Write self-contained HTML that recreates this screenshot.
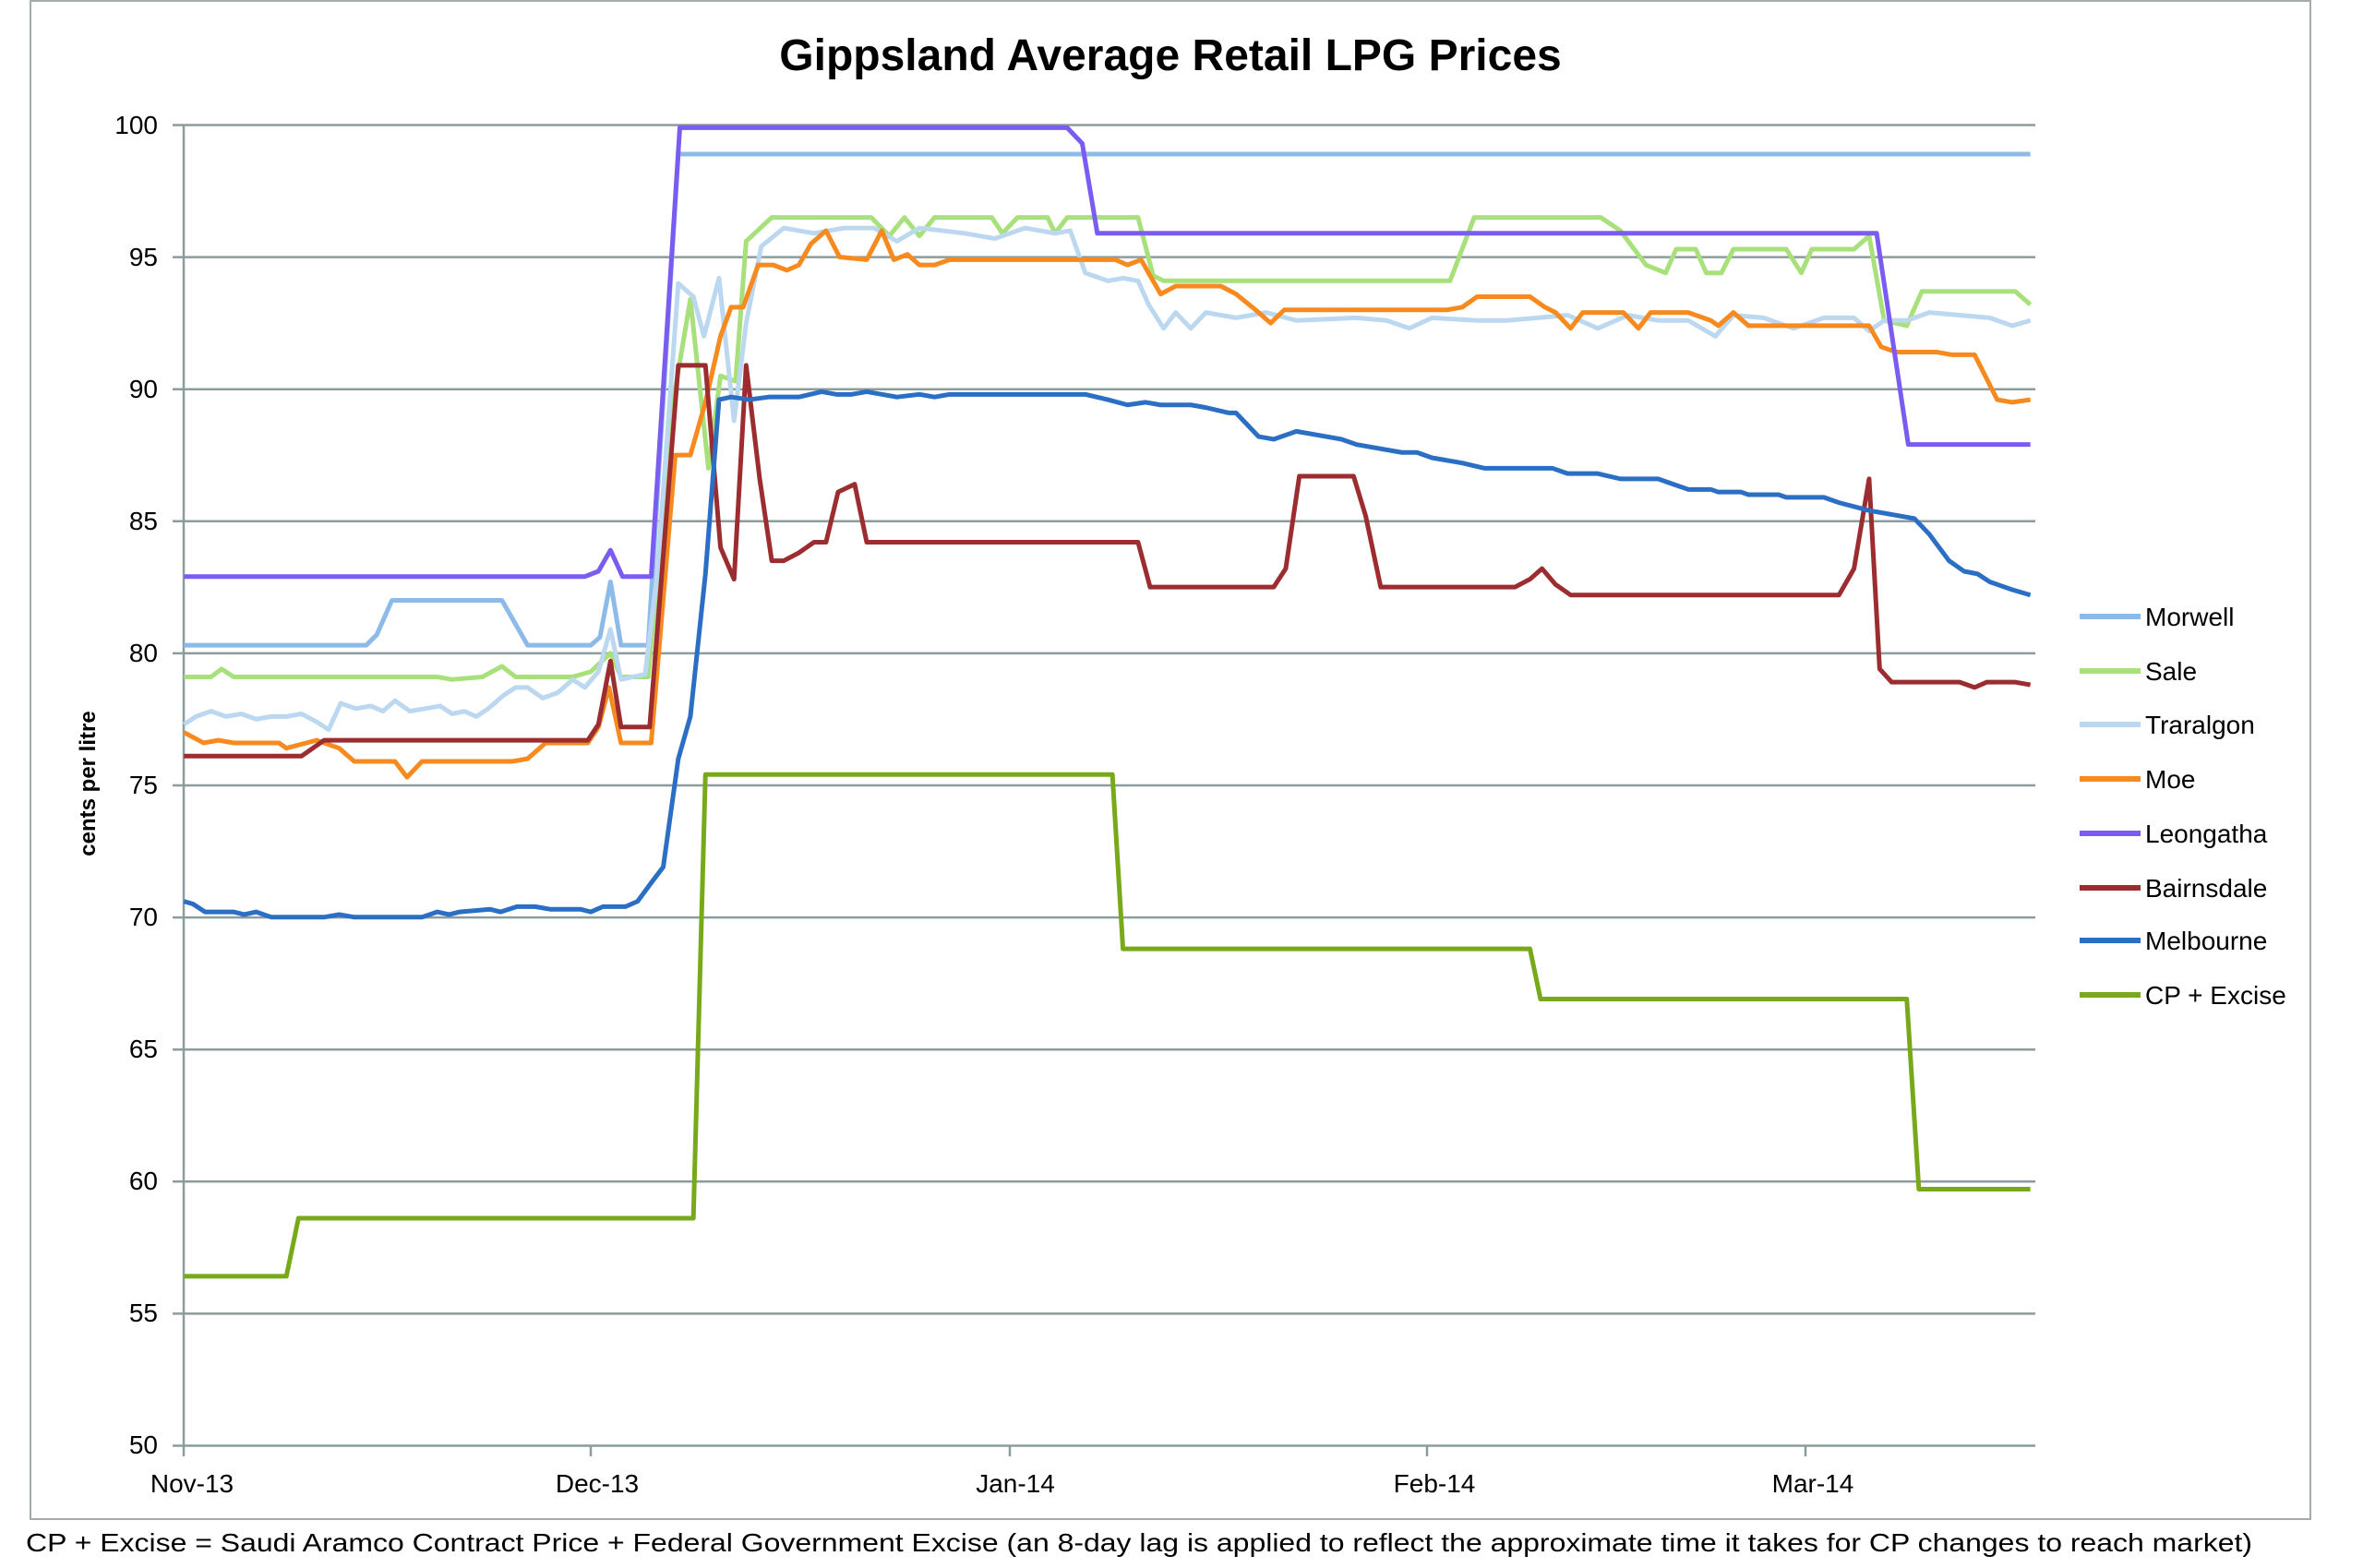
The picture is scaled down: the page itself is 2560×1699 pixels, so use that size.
<!DOCTYPE html>
<html><head><meta charset="utf-8"><style>
html,body{margin:0;padding:0;background:#fff;}
svg{display:block;}
text{font-family:"Liberation Sans",sans-serif;fill:#000;}
</style></head><body>
<svg width="2560" height="1699" xmlns="http://www.w3.org/2000/svg">
<rect x="33" y="1" width="2470" height="1645" fill="#fff" stroke="#a3abab" stroke-width="2"/>
<text x="1268" y="76" font-size="48" font-weight="bold" text-anchor="middle">Gippsland Average Retail LPG Prices</text>
<g stroke="#8c9c9c" stroke-width="2.5">
<line x1="187" y1="135.5" x2="2205" y2="135.5"/>
<line x1="187" y1="278.6" x2="2205" y2="278.6"/>
<line x1="187" y1="421.7" x2="2205" y2="421.7"/>
<line x1="187" y1="564.8" x2="2205" y2="564.8"/>
<line x1="187" y1="707.9" x2="2205" y2="707.9"/>
<line x1="187" y1="851" x2="2205" y2="851"/>
<line x1="187" y1="994.1" x2="2205" y2="994.1"/>
<line x1="187" y1="1137.2" x2="2205" y2="1137.2"/>
<line x1="187" y1="1280.3" x2="2205" y2="1280.3"/>
<line x1="187" y1="1423.4" x2="2205" y2="1423.4"/>
<line x1="187" y1="1566.5" x2="2205" y2="1566.5"/>
<line x1="199" y1="135.5" x2="199" y2="1578"/>
<line x1="640" y1="1566" x2="640" y2="1578"/>
<line x1="1094" y1="1566" x2="1094" y2="1578"/>
<line x1="1546" y1="1566" x2="1546" y2="1578"/>
<line x1="1956" y1="1566" x2="1956" y2="1578"/>
</g>
<g font-size="28" text-anchor="end">
<text x="171" y="145">100</text><text x="171" y="288">95</text><text x="171" y="431">90</text>
<text x="171" y="574">85</text><text x="171" y="717">80</text><text x="171" y="860">75</text>
<text x="171" y="1003">70</text><text x="171" y="1146">65</text><text x="171" y="1289">60</text>
<text x="171" y="1432">55</text><text x="171" y="1575">50</text>
</g>
<g font-size="28" text-anchor="middle">
<text x="208" y="1617">Nov-13</text><text x="647" y="1617">Dec-13</text><text x="1100" y="1617">Jan-14</text>
<text x="1554" y="1617">Feb-14</text><text x="1964" y="1617">Mar-14</text>
</g>
<text transform="translate(103,849) rotate(-90)" font-size="24" font-weight="bold" text-anchor="middle">cents per litre</text>
<text x="28" y="1681" font-size="28" textLength="2412" lengthAdjust="spacingAndGlyphs">CP + Excise = Saudi Aramco Contract Price + Federal Government Excise (an 8-day lag is applied to reflect the approximate time it takes for CP changes to reach market)</text>

<g transform="matrix(1.633 0 0 -28.61 0 2996.5)" fill="none" stroke-width="5" stroke-linejoin="round">
<polyline vector-effect="non-scaling-stroke" stroke="#8dbbe9" points="122,80.3 243,80.3 250,80.7 260,82 333,82 350,80.3 392,80.3 398,80.6 405,82.7 412,80.3 430,80.3 450,98.9 1347,98.9"/>
<polyline vector-effect="non-scaling-stroke" stroke="#a8e07c" points="122,79.1 140,79.1 147,79.4 155,79.1 290,79.1 300,79.0 320,79.1 333,79.5 342,79.1 380,79.1 392,79.3 405,80 412,79.1 430,79.1 448,90 458,93.4 470,87 478,90.5 488,90.3 495,95.6 512,96.5 578,96.5 590,95.8 600,96.5 610,95.8 620,96.5 658,96.5 665,95.9 675,96.5 695,96.5 700,95.9 708,96.5 755,96.5 765,94.3 772,94.1 962,94.1 978,96.5 1062,96.5 1075,96 1092,94.7 1105,94.4 1112,95.3 1125,95.3 1132,94.4 1142,94.4 1150,95.3 1185,95.3 1195,94.4 1202,95.3 1230,95.3 1240,95.8 1250,92.6 1265,92.4 1275,93.7 1337,93.7 1347,93.2"/>
<polyline vector-effect="non-scaling-stroke" stroke="#bcd8f0" points="122,77.3 130,77.6 140,77.8 150,77.6 160,77.7 170,77.5 180,77.6 190,77.6 200,77.7 210,77.4 218,77.1 226,78.1 236,77.9 246,78.0 254,77.8 262,78.2 272,77.8 282,77.9 292,78.0 300,77.7 308,77.8 316,77.6 324,77.9 334,78.4 342,78.7 350,78.7 360,78.3 370,78.5 380,79.0 388,78.7 397,79.3 405,80.9 412,79.0 428,79.2 436,83 450,94 460,93.5 467,92 477,94.2 487,88.8 495,92.5 505,95.4 520,96.1 540,95.9 560,96.1 580,96.1 595,95.6 610,96.1 640,95.9 660,95.7 680,96.1 700,95.9 710,96 720,94.4 735,94.1 745,94.2 755,94.1 762,93.2 772,92.3 780,92.9 790,92.3 800,92.9 820,92.7 840,92.9 860,92.6 900,92.7 920,92.6 935,92.3 950,92.7 980,92.6 1000,92.6 1020,92.7 1040,92.8 1060,92.3 1080,92.8 1100,92.6 1120,92.6 1138,92 1150,92.8 1170,92.7 1190,92.3 1210,92.7 1230,92.7 1240,92.2 1250,92.6 1265,92.6 1280,92.9 1300,92.8 1320,92.7 1335,92.4 1347,92.6"/>
<polyline vector-effect="non-scaling-stroke" stroke="#f68a1f" points="122,77 135,76.6 145,76.7 155,76.6 185,76.6 190,76.4 210,76.7 225,76.4 235,75.9 262,75.9 270,75.3 280,75.9 340,75.9 350,76 362,76.6 390,76.6 397,77.2 404,78.7 412,76.6 432,76.6 448,87.5 458,87.5 468,89.5 478,92 485,93.1 493,93.1 503,94.7 513,94.7 522,94.5 530,94.7 538,95.5 548,96 557,95 575,94.9 585,96 593,94.9 602,95.1 610,94.7 620,94.7 630,94.9 740,94.9 748,94.7 757,94.9 770,93.6 780,93.9 810,93.9 820,93.6 833,93 843,92.5 852,93 960,93 970,93.1 980,93.5 1015,93.5 1025,93.1 1032,92.9 1042,92.3 1050,92.9 1077,92.9 1087,92.3 1095,92.9 1120,92.9 1135,92.6 1140,92.4 1150,92.9 1160,92.4 1240,92.4 1248,91.6 1258,91.4 1285,91.4 1295,91.3 1310,91.3 1325,89.6 1335,89.5 1347,89.6"/>
<polyline vector-effect="non-scaling-stroke" stroke="#7b5cf0" points="122,82.9 388,82.9 397,83.1 405,83.9 413,82.9 432,82.9 451,99.9 708,99.9 718,99.3 728,95.9 1245,95.9 1266,87.9 1347,87.9"/>
<polyline vector-effect="non-scaling-stroke" stroke="#9b2d30" points="122,76.1 200,76.1 215,76.7 390,76.7 397,77.3 405,79.7 412,77.2 431,77.2 450,90.9 468,90.9 478,84 487,82.8 495,90.9 504,86.6 512,83.5 520,83.5 530,83.8 540,84.2 548,84.2 556,86.1 567,86.4 575,84.2 755,84.2 763,82.5 845,82.5 853,83.2 862,86.7 898,86.7 906,85.2 916,82.5 1005,82.5 1015,82.8 1023,83.2 1032,82.6 1042,82.2 1220,82.2 1230,83.2 1240,86.6 1247,79.4 1255,78.9 1300,78.9 1310,78.7 1318,78.9 1337,78.9 1347,78.8"/>
<polyline vector-effect="non-scaling-stroke" stroke="#2b6fc4" points="122,70.6 128,70.5 136,70.2 155,70.2 162,70.1 170,70.2 180,70 215,70 225,70.1 235,70 280,70 290,70.2 298,70.1 305,70.2 325,70.3 332,70.2 343,70.4 355,70.4 365,70.3 385,70.3 392,70.2 400,70.4 415,70.4 423,70.6 432,71.3 440,71.9 450,76 458,77.6 468,83 477,89.6 485,89.7 497,89.6 510,89.7 530,89.7 545,89.9 555,89.8 565,89.8 575,89.9 595,89.7 610,89.8 620,89.7 630,89.8 720,89.8 735,89.6 748,89.4 760,89.5 770,89.4 790,89.4 800,89.3 815,89.1 820,89.1 835,88.2 845,88.1 860,88.4 890,88.1 900,87.9 930,87.6 940,87.6 950,87.4 970,87.2 985,87 1010,87 1020,87 1030,87 1040,86.8 1060,86.8 1075,86.6 1100,86.6 1110,86.4 1120,86.2 1135,86.2 1140,86.1 1155,86.1 1160,86 1180,86 1185,85.9 1210,85.9 1220,85.7 1240,85.4 1270,85.1 1280,84.5 1293,83.5 1303,83.1 1312,83 1320,82.7 1335,82.4 1347,82.2"/>
<polyline vector-effect="non-scaling-stroke" stroke="#78a91b" points="122,56.4 190,56.4 198,58.6 460,58.6 468,75.4 738,75.4 745,68.8 1015,68.8 1022,66.9 1265,66.9 1273,59.7 1347,59.7"/>
</g>

<g stroke-width="6">
<line x1="2253" y1="668" x2="2319" y2="668" stroke="#8dbbe9"/>
<line x1="2253" y1="727" x2="2319" y2="727" stroke="#a8e07c"/>
<line x1="2253" y1="785" x2="2319" y2="785" stroke="#bcd8f0"/>
<line x1="2253" y1="844" x2="2319" y2="844" stroke="#f68a1f"/>
<line x1="2253" y1="903" x2="2319" y2="903" stroke="#7b5cf0"/>
<line x1="2253" y1="962" x2="2319" y2="962" stroke="#9b2d30"/>
<line x1="2253" y1="1019" x2="2319" y2="1019" stroke="#2b6fc4"/>
<line x1="2253" y1="1078" x2="2319" y2="1078" stroke="#78a91b"/>
</g>
<g font-size="28">
<text x="2324" y="678">Morwell</text>
<text x="2324" y="737">Sale</text>
<text x="2324" y="795">Traralgon</text>
<text x="2324" y="854">Moe</text>
<text x="2324" y="913">Leongatha</text>
<text x="2324" y="972">Bairnsdale</text>
<text x="2324" y="1029">Melbourne</text>
<text x="2324" y="1088">CP + Excise</text>
</g>
</svg>
</body></html>
